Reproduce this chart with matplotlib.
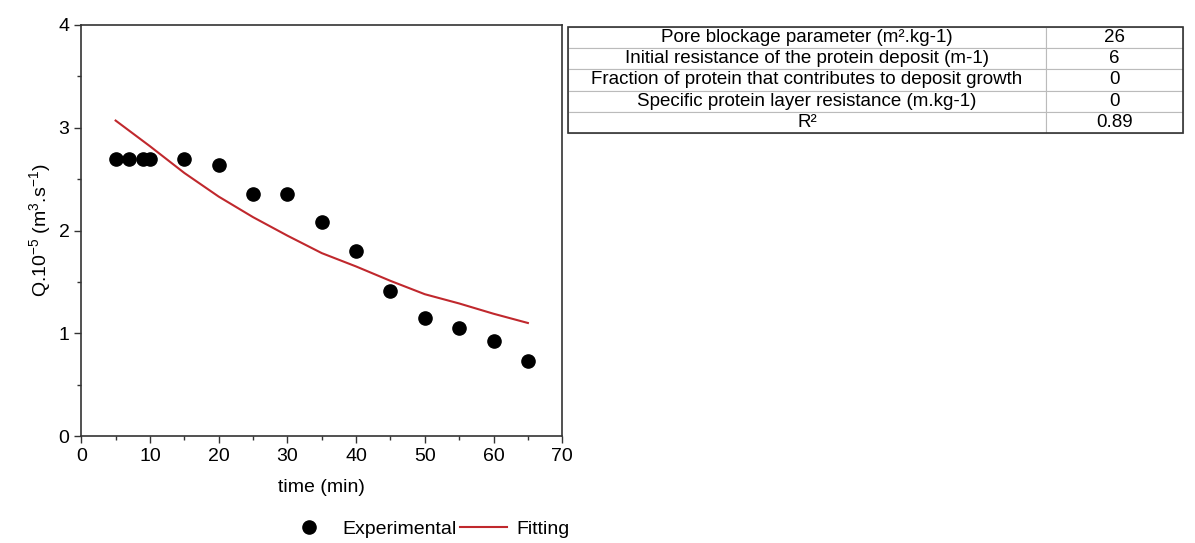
import numpy as np
import matplotlib
matplotlib.use("Agg")
import matplotlib.pyplot as plt
from matplotlib.ticker import MultipleLocator

plt.rcParams['font.family'] = ['Liberation Sans', 'DejaVu Sans']
plt.rcParams['mathtext.fontset'] = 'custom'
plt.rcParams['mathtext.rm'] = 'Liberation Sans'
plt.rcParams['mathtext.it'] = 'Liberation Sans'

# Experimental data
time_exp = [5, 7, 9, 10, 15, 20, 25, 30, 35, 40, 45, 50, 55, 60, 65]
q_exp = [2.70, 2.70, 2.70, 2.70, 2.70, 2.64, 2.36, 2.36, 2.08, 1.80, 1.41, 1.15, 1.05, 0.92, 0.73]

# Fitted model
time_fit = [5, 10, 15, 20, 25, 30, 35, 40, 45, 50, 55, 60, 65]
q_fit = [3.07, 2.82, 2.56, 2.33, 2.13, 1.95, 1.78, 1.65, 1.51, 1.38, 1.29, 1.19, 1.10]

# Parameter table
param_names = ["Pore blockage parameter (m\u00b2.kg-1)",
               "Initial resistance of the protein deposit (m-1)",
               "Fraction of protein that contributes to deposit growth",
               "Specific protein layer resistance (m.kg-1)",
               "R\u00b2"]
param_values = ["26", "6", "0", "0", "0.89"]

fig = plt.figure(figsize=(11.95, 5.43), dpi=100)
ax = fig.add_axes([0.068, 0.197, 0.4025, 0.757])

ax.plot(time_exp, q_exp, 'o', color='black', markersize=9.5, label='Experimental')
ax.plot(time_fit, q_fit, '-', color='#c0282d', lw=1.5, label='Fitting')

ax.set_xlim(0, 70)
ax.set_ylim(0, 4)
ax.xaxis.set_major_locator(MultipleLocator(10))
ax.xaxis.set_minor_locator(MultipleLocator(5))
ax.yaxis.set_major_locator(MultipleLocator(1))
ax.yaxis.set_minor_locator(MultipleLocator(0.5))
ax.tick_params(which='major', length=5, width=1, labelsize=14, color='#333333')
ax.tick_params(which='minor', length=3, width=1, color='#333333')
for s in ax.spines.values():
    s.set_linewidth(1.2)
    s.set_color('#333333')

ax.set_xlabel('time (min)', fontsize=14, labelpad=10)
ax.set_ylabel('Q.10$^{-5}$ (m$^{3}$.s$^{-1}$)', fontsize=14, labelpad=4)

fig.legend(handles=ax.get_lines(), loc='center right',
           bbox_to_anchor=(570 / 1195, 0.026), ncol=2, frameon=False,
           fontsize=14, handlelength=2.4, columnspacing=0.2, handletextpad=0.5,
           borderaxespad=0, borderpad=0)

# Table
tax = fig.add_axes([568 / 1195, 1 - 133 / 543, 615 / 1195, 106 / 543])
tax.axis('off')
cells = [[n, v] for n, v in zip(param_names, param_values)]
tbl = tax.table(cellText=cells, cellLoc='center', bbox=[0, 0, 1, 1],
                colWidths=[0.777, 0.223])
tbl.auto_set_font_size(False)
tbl.set_fontsize(13.5)
for (r, c), cell in tbl.get_celld().items():
    cell.set_edgecolor('#bbbbbb')
    cell.set_linewidth(0.8)
border = plt.Rectangle((0, 0), 1, 1, transform=tax.transAxes, fill=False,
                       edgecolor='#333333', lw=1.2, clip_on=False)
tax.add_patch(border)

fig.savefig('out.png', dpi=100)
